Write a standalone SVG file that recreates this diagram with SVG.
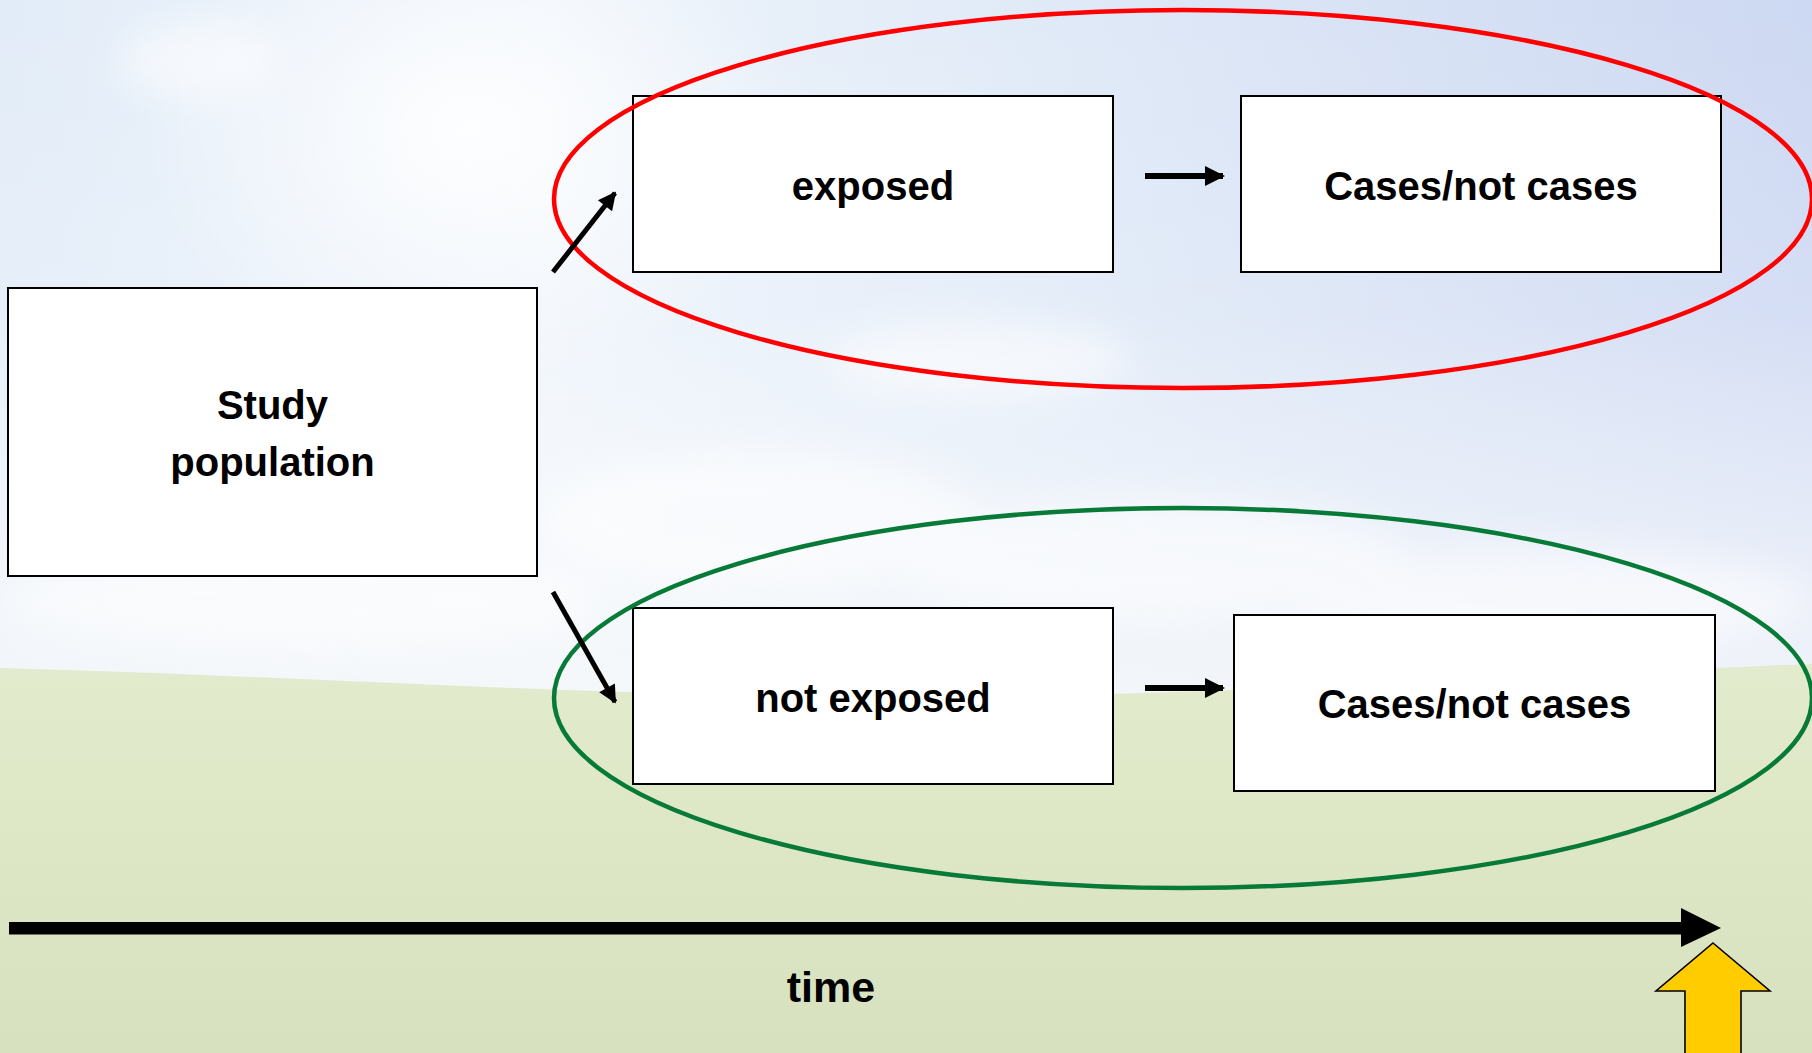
<svg xmlns="http://www.w3.org/2000/svg" width="1812" height="1053" viewBox="0 0 1812 1053">
  <defs>
    <linearGradient id="skyH" x1="0" y1="0" x2="1" y2="0">
      <stop offset="0" stop-color="#e2ecf8"/>
      <stop offset="0.3" stop-color="#eef4fb"/>
      <stop offset="0.6" stop-color="#dfe9f7"/>
      <stop offset="1" stop-color="#cdd8f2"/>
    </linearGradient>
    <linearGradient id="skyV" x1="0" y1="0" x2="0" y2="1">
      <stop offset="0" stop-color="#ffffff" stop-opacity="0"/>
      <stop offset="0.45" stop-color="#ffffff" stop-opacity="0.15"/>
      <stop offset="1" stop-color="#f6f8fa" stop-opacity="0.85"/>
    </linearGradient>
    <radialGradient id="sun" cx="0.5" cy="0.5" r="0.5">
      <stop offset="0" stop-color="#ffffff" stop-opacity="0.9"/>
      <stop offset="1" stop-color="#ffffff" stop-opacity="0"/>
    </radialGradient>
    <linearGradient id="grass" x1="0" y1="0" x2="0" y2="1">
      <stop offset="0" stop-color="#e2ebcd"/>
      <stop offset="0.3" stop-color="#dfe9c8"/>
      <stop offset="1" stop-color="#d7e1bf"/>
    </linearGradient>
    <filter id="blur" x="-50%" y="-50%" width="200%" height="200%">
      <feGaussianBlur stdDeviation="18"/>
    </filter>
    <marker id="ah" viewBox="0 0 10 10" refX="9" refY="5" markerWidth="3.4" markerHeight="3.4" markerUnits="strokeWidth" orient="auto">
      <path d="M0,0 L10,5 L0,10 Z" fill="#000"/>
    </marker>
    <marker id="ahd" viewBox="0 0 10 10" refX="9" refY="5" markerWidth="4.2" markerHeight="3.6" markerUnits="strokeWidth" orient="auto">
      <path d="M0,0 L10,5 L0,10 Z" fill="#000"/>
    </marker>
    <style>
      .box { fill: #ffffff; stroke: #000000; stroke-width: 2; }
      .lbl { font-family: "Liberation Sans", Arial, sans-serif; font-weight: bold; font-size: 40px; fill: #000; text-anchor: middle; }
      .conn { stroke: #000; fill: none; }
      .ring { fill: none; stroke-width: 4.5; }
    </style>
  </defs>

  <!-- background -->
  <rect x="0" y="0" width="1812" height="1053" fill="url(#skyH)"/>
  <rect x="0" y="0" width="1812" height="700" fill="url(#skyV)"/>
  <ellipse cx="470" cy="130" rx="330" ry="260" fill="url(#sun)"/>
  <g filter="url(#blur)" fill="#ffffff" opacity="0.55">
    <ellipse cx="980" cy="360" rx="150" ry="40"/>
    <ellipse cx="760" cy="520" rx="220" ry="70"/>
    <ellipse cx="1150" cy="560" rx="260" ry="60"/>
    <ellipse cx="300" cy="600" rx="300" ry="50"/>
    <ellipse cx="1550" cy="600" rx="260" ry="50"/>
    <ellipse cx="200" cy="60" rx="80" ry="40"/>
  </g>
  <path d="M0,668 C300,676 600,697 900,697 C1200,697 1500,676 1812,664 L1812,1053 L0,1053 Z" fill="url(#grass)"/>

  <!-- nodes -->
  <g id="study-population">
    <rect class="box" x="8" y="288" width="529" height="288"/>
    <text class="lbl" x="272.5" y="419">Study</text>
    <text class="lbl" x="272.5" y="476">population</text>
  </g>
  <g id="exposed">
    <rect class="box" x="633" y="96" width="480" height="176"/>
    <text class="lbl" x="873" y="200">exposed</text>
  </g>
  <g id="cases-exposed">
    <rect class="box" x="1241" y="96" width="480" height="176"/>
    <text class="lbl" x="1481" y="200">Cases/not cases</text>
  </g>
  <g id="not-exposed">
    <rect class="box" x="633" y="608" width="480" height="176"/>
    <text class="lbl" x="873" y="712">not exposed</text>
  </g>
  <g id="cases-not-exposed">
    <rect class="box" x="1234" y="615" width="481" height="176"/>
    <text class="lbl" x="1474.5" y="718">Cases/not cases</text>
  </g>

  <!-- cohort rings -->
  <g id="exposed-cohort">
    <ellipse class="ring" cx="1183" cy="199" rx="629" ry="189" stroke="#ff0000"/>
  </g>
  <g id="unexposed-cohort">
    <ellipse class="ring" cx="1183" cy="698" rx="629" ry="190" stroke="#087a38"/>
  </g>

  <!-- connectors -->
  <g id="connectors">
    <line class="conn" x1="553" y1="272" x2="615" y2="193" stroke-width="5" marker-end="url(#ahd)"/>
    <line class="conn" x1="553" y1="592" x2="615" y2="702" stroke-width="5" marker-end="url(#ahd)"/>
    <line class="conn" x1="1145" y1="176" x2="1223" y2="176" stroke-width="6" marker-end="url(#ah)"/>
    <line class="conn" x1="1145" y1="688" x2="1223" y2="688" stroke-width="6" marker-end="url(#ah)"/>
  </g>

  <!-- time axis -->
  <g id="time-axis">
    <rect x="9" y="922" width="1674" height="12.5" fill="#000"/>
    <path d="M1681,908 L1721,928 L1681,947 Z" fill="#000"/>
    <text class="lbl" x="831" y="1002" style="font-size:43px">time</text>
  </g>
  <g id="now-marker">
    <path d="M1713,943 L1770,991 L1741,991 L1741,1056 L1685,1056 L1685,991 L1656,991 Z" fill="#ffcc00" stroke="#000" stroke-width="1.6" stroke-linejoin="miter"/>
  </g>
</svg>
